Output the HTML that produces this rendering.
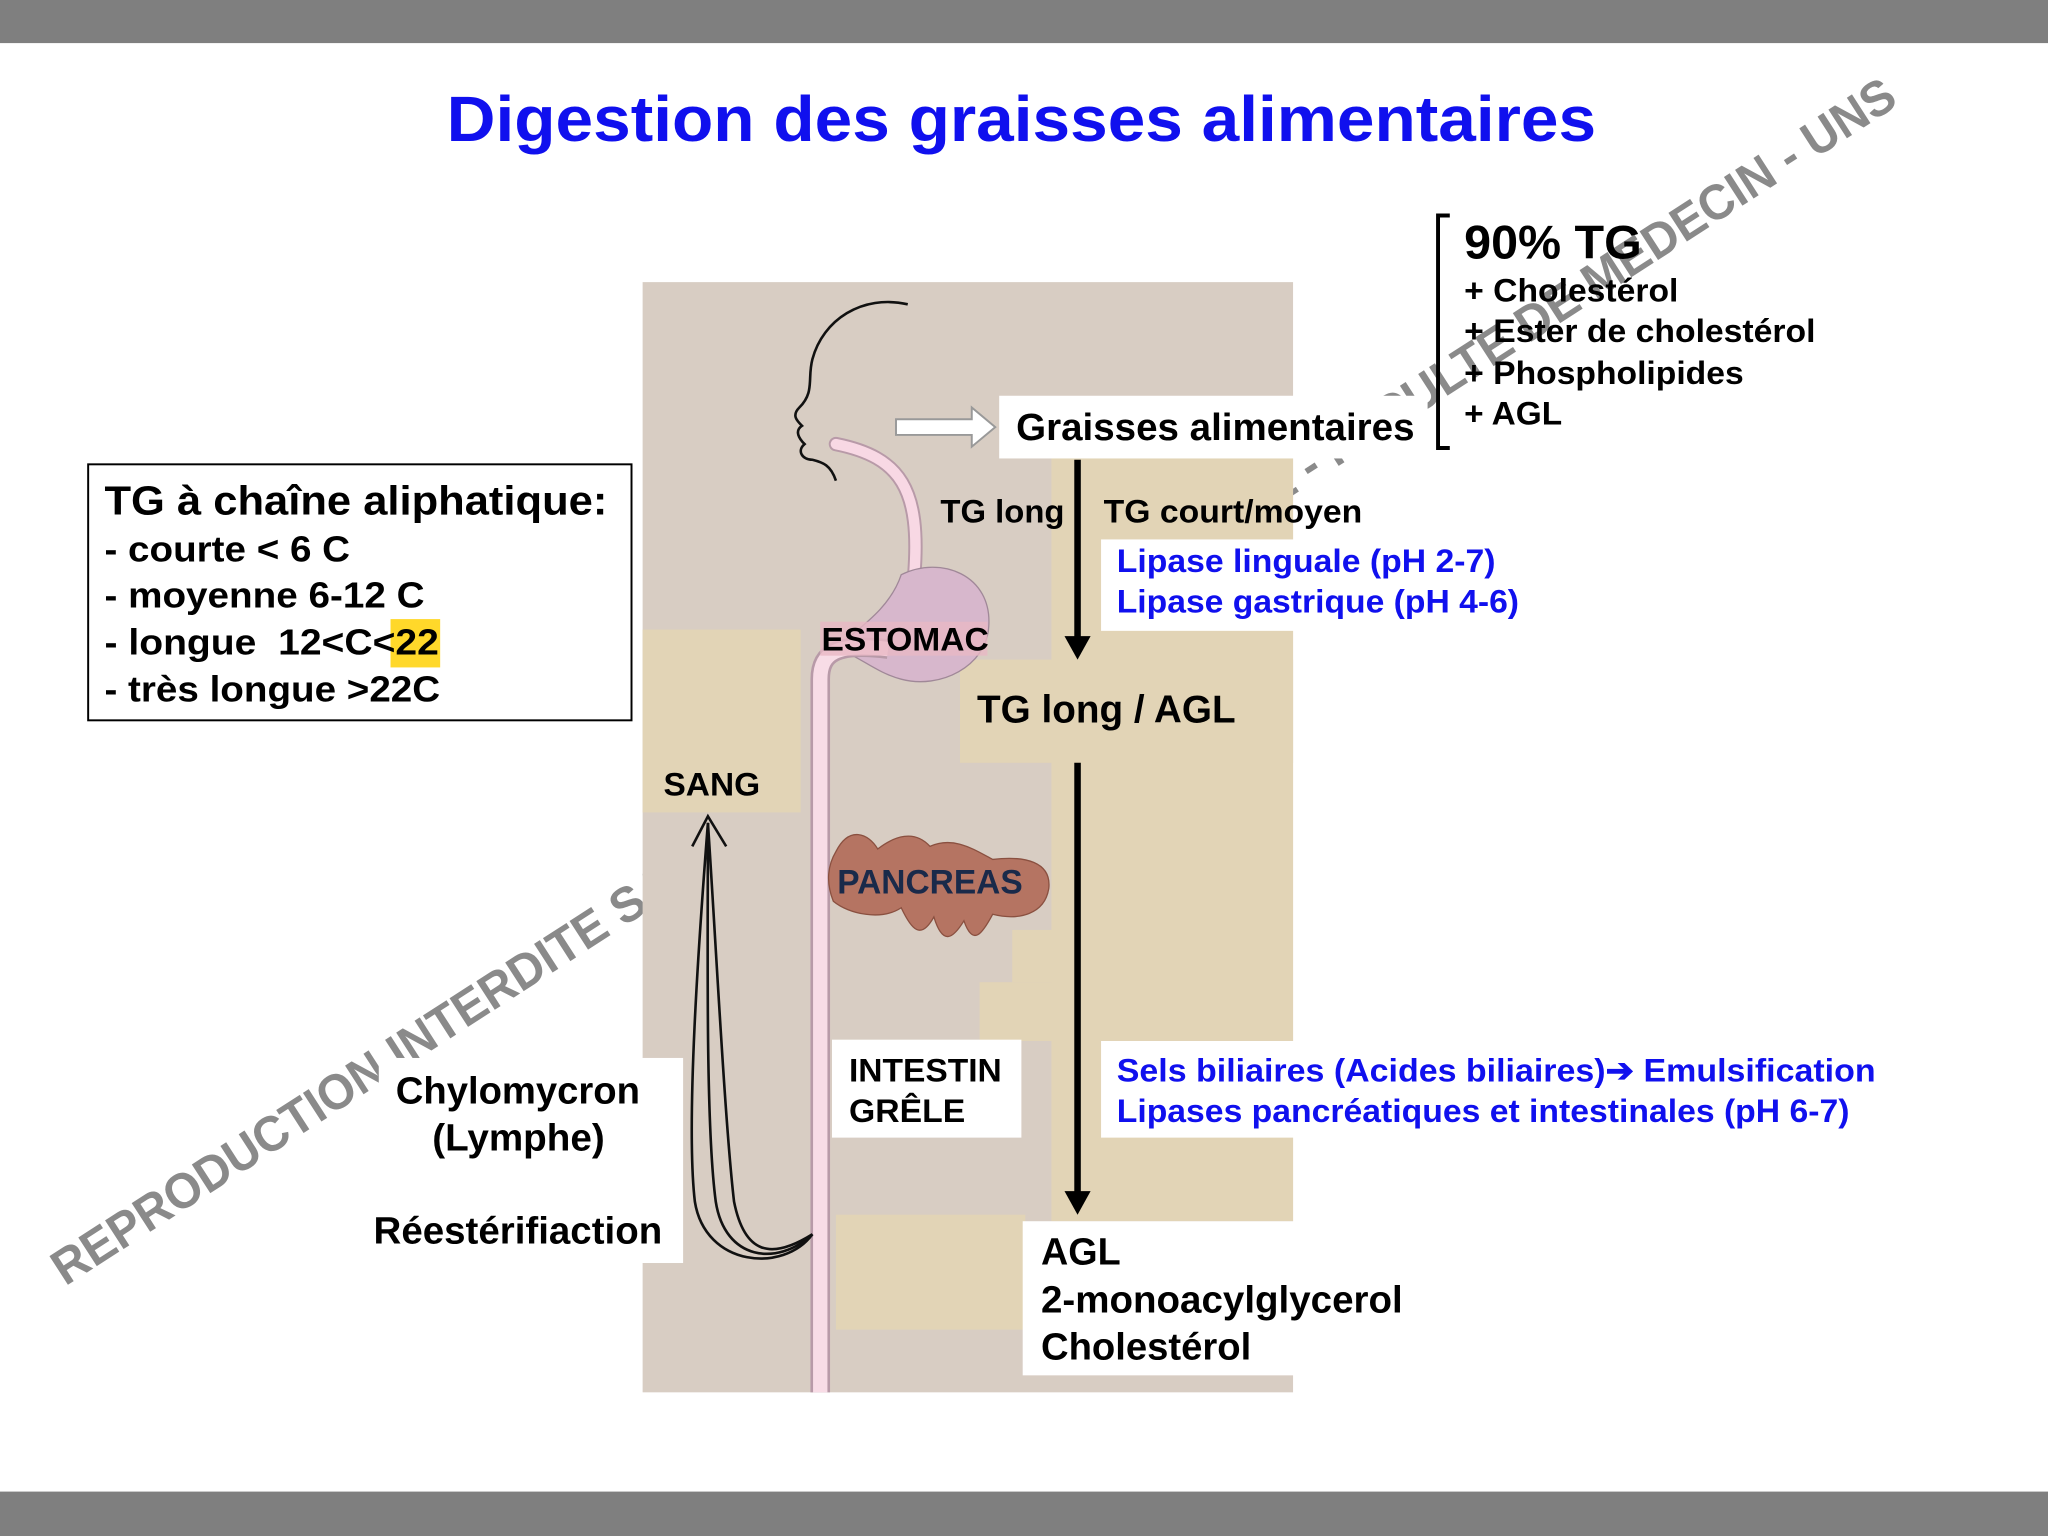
<!DOCTYPE html>
<html><head><meta charset="utf-8"><style>
html,body{margin:0;padding:0;background:#fff;}
svg{display:block;}
text{font-family:"Liberation Sans",Arial,sans-serif;font-weight:bold;}
</style></head><body>
<svg width="2048" height="1536" viewBox="0 0 1568 1176" xmlns="http://www.w3.org/2000/svg">
<rect x="0" y="0" width="1568" height="1176" fill="#fff"/>
<rect x="0" y="0" width="1568" height="33" fill="#7f7f7f"/>
<rect x="0" y="1142" width="1568" height="34" fill="#7f7f7f"/>
<text x="782" y="108" text-anchor="middle" font-size="49" fill="#1010ee" textLength="880" lengthAdjust="spacingAndGlyphs">Digestion des graisses alimentaires</text>

<!-- watermark -->
<text x="50" y="985" transform="rotate(-32.8 50 985)" font-size="38" fill="#8a8a8a" textLength="1671" lengthAdjust="spacingAndGlyphs">REPRODUCTION INTERDITE SANS AUTORISATION PREALABLE - FACULTE DE MEDECIN - UNS</text>

<!-- figure background -->
<rect x="492" y="216" width="498" height="850" fill="#d8cdc3"/>
<rect x="805" y="345" width="185" height="590" fill="#e2d4b6"/>
<rect x="775" y="712" width="40" height="40" fill="#e2d4b6"/>
<rect x="750" y="752" width="60" height="45" fill="#e2d4b6"/>
<rect x="735" y="505" width="255" height="79" fill="#e2d4b6"/>
<rect x="492" y="482" width="121" height="140" fill="#e2d4b6"/>
<rect x="640" y="930" width="145" height="88" fill="#e2d4b6"/>

<!-- white boxes -->
<rect x="765" y="303" width="328" height="48" fill="#fff"/>
<rect x="843" y="413" width="330" height="70" fill="#fff"/>
<rect x="843" y="797" width="600" height="74" fill="#fff"/>
<rect x="783" y="935" width="300" height="118" fill="#fff"/>
<rect x="637" y="796" width="145" height="75" fill="#fff"/>
<rect x="290" y="810" width="233" height="157" fill="#fff"/>

<!-- head -->
<path d="M695 233 C660 225 630 245 622 275 C618 290 624 300 612 312 C606 318 610 322 614 326 C608 330 612 336 616 340 C610 345 614 352 622 352 C630 354 636 356 640 368" fill="none" stroke="#111" stroke-width="2"/>

<!-- esophagus + tube -->
<path d="M640 340 C690 350 705 375 700 440 L698 470" fill="none" stroke="#b89aa8" stroke-width="11" stroke-linecap="round"/>
<path d="M640 340 C690 350 705 375 700 440 L698 470" fill="none" stroke="#f8d8e4" stroke-width="8" stroke-linecap="round"/>
<path d="M690 440 C720 425 760 440 757 480 C755 510 720 528 690 520 C670 515 655 500 640 497 C650 485 680 470 690 440 Z" fill="#d7b7cc" stroke="#a08898" stroke-width="1"/>
<path d="M680 497 C640 492 628 500 628 520 L628 1066" fill="none" stroke="#b89aa8" stroke-width="15"/>
<path d="M680 497 C640 492 628 500 628 520 L628 1066" fill="none" stroke="#f8dce6" stroke-width="11"/>
<rect x="628" y="476" width="128" height="26" fill="#e8b8c4" opacity="0.8"/>

<!-- pancreas -->
<path d="M640 652 C650 632 665 638 672 650 C685 640 700 635 712 648 C730 640 745 650 760 658 C785 655 805 660 803 680 C800 700 780 705 760 700 C752 715 745 725 738 705 C730 718 722 725 715 702 C705 720 698 712 690 695 C675 705 650 700 638 690 C632 675 634 662 640 652 Z" fill="#b57462" stroke="#8a5040" stroke-width="1"/>

<!-- hollow arrow -->
<path d="M686 321 L744 321 L744 312 L762 327 L744 342 L744 333 L686 333 Z" fill="#fff" stroke="#999" stroke-width="1.5"/>

<!-- down arrows -->
<line x1="825" y1="352" x2="825" y2="490" stroke="#000" stroke-width="5"/>
<path d="M815 487 L835 487 L825 505 Z" fill="#000"/>
<line x1="825" y1="584" x2="825" y2="915" stroke="#000" stroke-width="5"/>
<path d="M815 912 L835 912 L825 930 Z" fill="#000"/>

<!-- sang arrow curves -->
<g fill="none" stroke="#111" stroke-width="2">
<path d="M622 945 C600 975 540 970 532 920 C525 860 535 720 542 630"/>
<path d="M622 945 C595 970 555 965 548 920 C540 860 542 720 542 630"/>
<path d="M622 945 C590 965 570 960 562 920 C555 860 548 720 542 630"/>
<path d="M530 648 L542 625 L556 648"/>
</g>

<!-- left box -->
<rect x="67.5" y="355.5" width="416" height="196" fill="#fff" stroke="#000" stroke-width="1.5"/>
<text x="80" y="394" font-size="31" fill="#000" textLength="385" lengthAdjust="spacingAndGlyphs">TG à chaîne aliphatique:</text>
<text x="80" y="430" font-size="28" fill="#000" textLength="188" lengthAdjust="spacingAndGlyphs">- courte &lt; 6 C</text>
<text x="80" y="465" font-size="28" fill="#000" textLength="245" lengthAdjust="spacingAndGlyphs">- moyenne 6-12 C</text>
<rect x="299" y="474" width="38" height="37" fill="#ffd82a"/>
<text x="80" y="501" font-size="28" fill="#000" xml:space="preserve" textLength="256" lengthAdjust="spacingAndGlyphs">- longue  12&lt;C&lt;22</text>
<text x="80" y="537" font-size="28" fill="#000" textLength="257" lengthAdjust="spacingAndGlyphs">- très longue &gt;22C</text>

<!-- bracket -->
<path d="M1110 165 L1101 165 L1101 343 L1110 343" fill="none" stroke="#000" stroke-width="3"/>
<text x="1121" y="198" font-size="36" fill="#000" textLength="136" lengthAdjust="spacingAndGlyphs">90% TG</text>
<text x="1121" y="231" font-size="25" fill="#000" textLength="164" lengthAdjust="spacingAndGlyphs">+ Cholestérol</text>
<text x="1121" y="262" font-size="25" fill="#000" textLength="269" lengthAdjust="spacingAndGlyphs">+ Ester de cholestérol</text>
<text x="1121" y="294" font-size="25" fill="#000" textLength="214" lengthAdjust="spacingAndGlyphs">+ Phospholipides</text>
<text x="1121" y="325" font-size="25" fill="#000" textLength="75" lengthAdjust="spacingAndGlyphs">+ AGL</text>

<text x="778" y="337" font-size="29" fill="#000" textLength="305" lengthAdjust="spacingAndGlyphs">Graisses alimentaires</text>
<text x="720" y="400" font-size="25" fill="#000" textLength="95" lengthAdjust="spacingAndGlyphs">TG long</text>
<text x="845" y="400" font-size="25" fill="#000" textLength="198" lengthAdjust="spacingAndGlyphs">TG court/moyen</text>
<text x="855" y="438" font-size="25" fill="#1010ee" textLength="290" lengthAdjust="spacingAndGlyphs">Lipase linguale (pH 2-7)</text>
<text x="855" y="469" font-size="25" fill="#1010ee" textLength="308" lengthAdjust="spacingAndGlyphs">Lipase gastrique (pH 4-6)</text>
<text x="629" y="498" font-size="25" fill="#000" textLength="128" lengthAdjust="spacingAndGlyphs">ESTOMAC</text>
<text x="748" y="553" font-size="30" fill="#000" textLength="198" lengthAdjust="spacingAndGlyphs">TG long / AGL</text>
<text x="508" y="609" font-size="25" fill="#000" textLength="74" lengthAdjust="spacingAndGlyphs">SANG</text>
<text x="641" y="684" font-size="26" fill="#1a2a4a" textLength="142" lengthAdjust="spacingAndGlyphs">PANCREAS</text>
<text x="650" y="828" font-size="25" fill="#000" textLength="117" lengthAdjust="spacingAndGlyphs">INTESTIN</text>
<text x="650" y="859" font-size="25" fill="#000" textLength="89" lengthAdjust="spacingAndGlyphs">GRÊLE</text>
<text x="855" y="828" font-size="25" fill="#1010ee" textLength="581" lengthAdjust="spacingAndGlyphs">Sels biliaires (Acides biliaires)➔ Emulsification</text>
<text x="855" y="859" font-size="25" fill="#1010ee" textLength="561" lengthAdjust="spacingAndGlyphs">Lipases pancréatiques et intestinales (pH 6-7)</text>
<text x="303" y="845" font-size="29" fill="#000" textLength="187" lengthAdjust="spacingAndGlyphs">Chylomycron</text>
<text x="331" y="881" font-size="29" fill="#000" textLength="132" lengthAdjust="spacingAndGlyphs">(Lymphe)</text>
<text x="286" y="952" font-size="29" fill="#000" textLength="221" lengthAdjust="spacingAndGlyphs">Réestérifiaction</text>
<text x="797" y="968" font-size="29" fill="#000" textLength="61" lengthAdjust="spacingAndGlyphs">AGL</text>
<text x="797" y="1005" font-size="29" fill="#000" textLength="277" lengthAdjust="spacingAndGlyphs">2-monoacylglycerol</text>
<text x="797" y="1041" font-size="29" fill="#000" textLength="161" lengthAdjust="spacingAndGlyphs">Cholestérol</text>
</svg>
</body></html>
